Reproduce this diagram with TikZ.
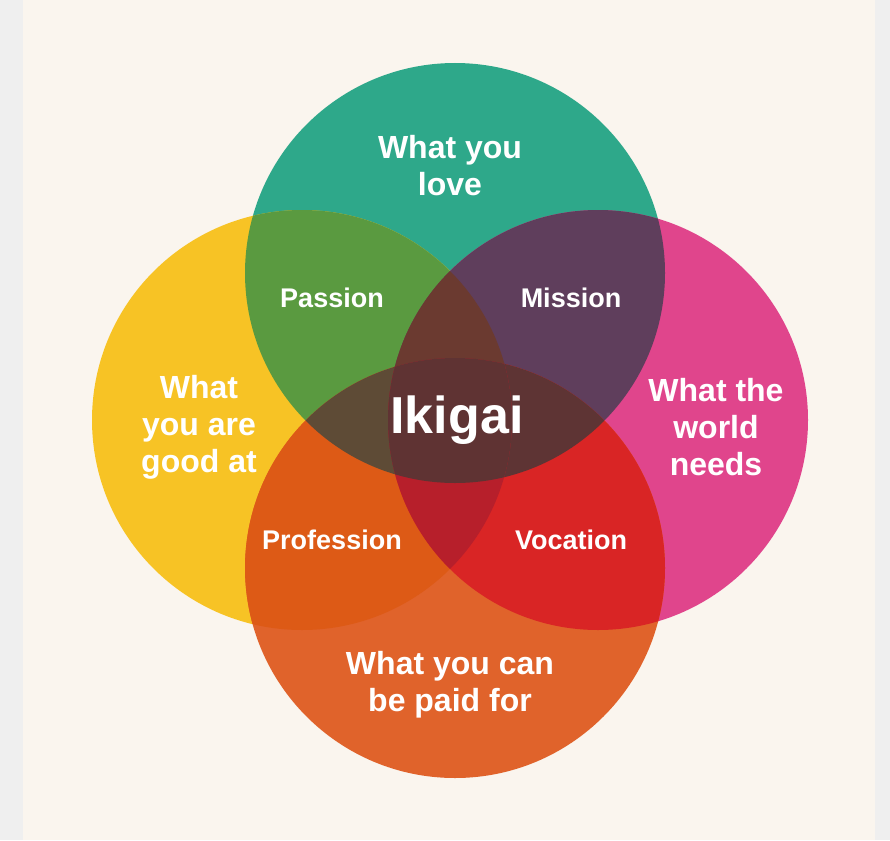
\documentclass[tikz,border=0pt]{standalone}
\usepackage{fontspec}
\setmainfont{Liberation Sans}
\usepackage{tikz}
\definecolor{bgcream}{HTML}{FAF5EE}
\definecolor{edgegray}{HTML}{EFEFEF}
\definecolor{cgreen}{HTML}{2EA88A}
\definecolor{cyellow}{HTML}{F7C325}
\definecolor{cpink}{HTML}{E0458C}
\definecolor{corange}{HTML}{E0632B}
\definecolor{cpassion}{HTML}{5A9A40}
\definecolor{cmission}{HTML}{5F3E5C}
\definecolor{cprofession}{HTML}{DD5A16}
\definecolor{cvocation}{HTML}{D92525}
\definecolor{cgyp}{HTML}{6B3A30}
\definecolor{cgyo}{HTML}{5E4B36}
\definecolor{cgpo}{HTML}{5E3434}
\definecolor{cypo}{HTML}{B71F2B}
\definecolor{cikigai}{HTML}{5F3333}

\begin{document}
\begin{tikzpicture}[x=1pt,y=-1pt,
    lbl/.style={text=white,font=\fontsize{32}{37}\selectfont\bfseries,align=center},
    sub/.style={text=white,font=\fontsize{27}{30}\selectfont\bfseries},
    big/.style={text=white,font=\fontsize{52}{60}\selectfont\bfseries}]
    % Background with grey side strips
    \fill[edgegray] (0,0) rectangle (890,840);
    \fill[bgcream] (23,0) rectangle (875,840);
    \useasboundingbox (0,0) rectangle (890,840);

    % Circle centres
    \coordinate (love) at (455,273);
    \coordinate (good) at (302,420);
    \coordinate (needs) at (598,420);
    \coordinate (paid) at (455,568);

    % The four circles
    \fill[cgreen] (love) circle[radius=210pt];
    \fill[cyellow] (good) circle[radius=210pt];
    \fill[cpink] (needs) circle[radius=210pt];
    \fill[corange] (paid) circle[radius=210pt];

    % Pairs
    \begin{scope}
        \clip (love) circle[radius=210pt];
        \fill[cpassion] (good) circle[radius=210pt];
        \fill[cmission] (needs) circle[radius=210pt];
    \end{scope}
    \begin{scope}
        \clip (paid) circle[radius=210pt];
        \fill[cprofession] (good) circle[radius=210pt];
        \fill[cvocation] (needs) circle[radius=210pt];
    \end{scope}

    % Triples
    \begin{scope}
        \clip (love) circle[radius=210pt];
        \clip (good) circle[radius=210pt];
        \fill[cgyp] (needs) circle[radius=210pt];
        \fill[cgyo] (paid) circle[radius=210pt];
    \end{scope}
    \begin{scope}
        \clip (paid) circle[radius=210pt];
        \clip (needs) circle[radius=210pt];
        \fill[cgpo] (love) circle[radius=210pt];
        \fill[cypo] (good) circle[radius=210pt];
    \end{scope}

    % All four
    \begin{scope}
        \clip (love) circle[radius=210pt];
        \clip (good) circle[radius=210pt];
        \clip (needs) circle[radius=210pt];
        \fill[cikigai] (paid) circle[radius=210pt];
    \end{scope}

    % Labels
    \node[lbl] (lovetxt) at (450,166) {What you\\love};
    \node[lbl] (goodtxt) at (199,427) {What\\you are\\good at};
    \node[lbl] (needstxt) at (716,427) {What the\\world\\needs};
    \node[lbl] (paidtxt) at (450,685) {What you can\\be paid for};
    \node[sub] (passion) at (332,298) {Passion};
    \node[sub] (mission) at (571,298) {Mission};
    \node[sub] (profession) at (332,540) {Profession};
    \node[sub] (vocation) at (571,540) {Vocation};
    \node[big] (ikigai) at (457,420) {Ikigai};
\end{tikzpicture}
\end{document}
